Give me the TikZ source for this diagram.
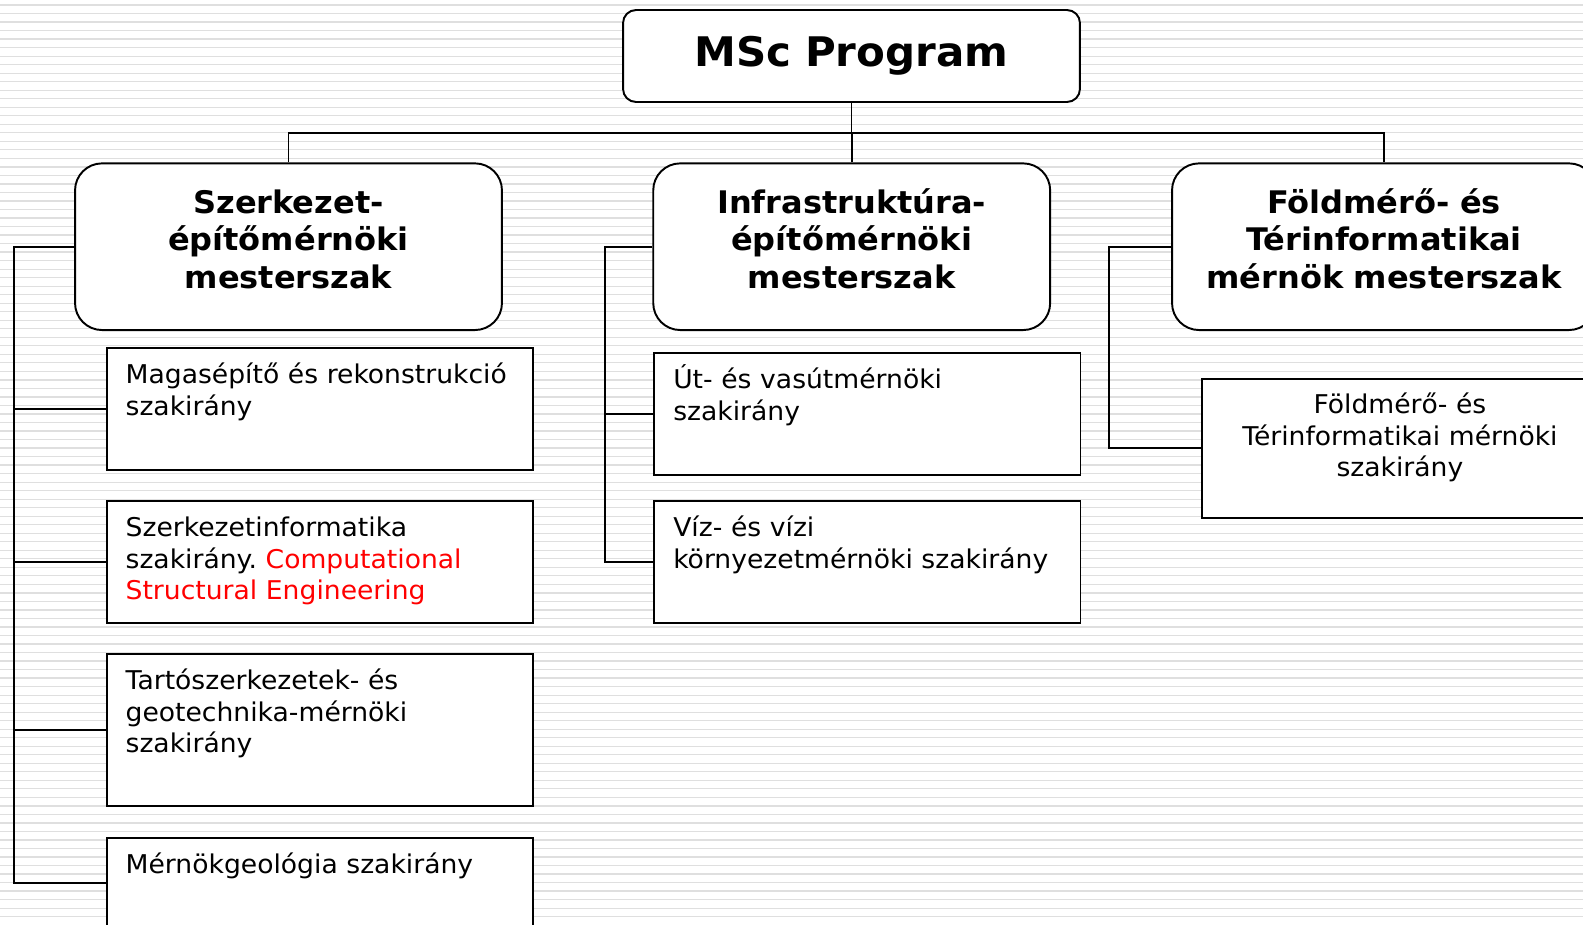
\documentclass[tikz,border=0pt]{standalone}
\usepackage{fontspec}
\setmainfont{DejaVu Sans}[FakeStretch=1.03]
\frenchspacing
\begin{document}
\begin{tikzpicture}[x=0.02cm,y=-0.02cm]
\tikzstyle{every node}+=[inner sep=0pt]
\tikzstyle{stripe}=[gray!25,line width=0.7pt]
\tikzstyle{conn}=[black,line width=1.1pt]
\tikzstyle{titlebox}=[draw,fill=white,line width=1.1pt,rounded corners=0.26cm,text width=9.14cm,align=center,text height=1.134cm,text depth=0.706cm,font=\fontsize{23.2}{28}\selectfont\bfseries]
\tikzstyle{majorbox}=[draw,fill=white,line width=1.1pt,rounded corners=0.54cm,align=center,text height=1.0cm,text depth=2.334cm,font=\fontsize{17.7}{21.26}\selectfont\bfseries]
\tikzstyle{subbox}=[draw,fill=white,line width=1.1pt,anchor=north west,inner xsep=0.38cm,inner ysep=0pt,text width=7.766cm,align=left,text height=0.72cm,font=\fontsize{14.7}{17.86}\selectfont]
\fill [white] (0,0) rectangle (1583,924);
\useasboundingbox (0,0) rectangle (1583,924);
\foreach \i in {0,...,107}
  \draw [stripe] (0,{5+8.52*\i}) -- (1583,{5+8.52*\i});
\node [titlebox] (msc) at (851.5,56) {MSc Program};
\node [majorbox,text width=8.54cm] (szerk) at (288.5,246.7) {Szerkezet-\\építőmérnöki\\mesterszak};
\node [majorbox,text width=7.94cm] (infra) at (851.7,246.7) {Infrastruktúra-\\építőmérnöki\\mesterszak};
\node [majorbox,text width=8.48cm] (foldm) at (1384,246.7) {Földmérő- és\\Térinformatikai\\mérnök mesterszak};
\node [subbox,text depth=1.72cm] (magas) at (105.7,346.7) {Magasépítő és rekonstrukció\\szakirány};
\node [subbox,text depth=1.714cm] (szinf) at (105.7,500) {Szerkezetinformatika\\szakirány. \textcolor{red}{Computational}\\\textcolor{red}{Structural Engineering}};
\node [subbox,text depth=2.326cm] (tarto) at (105.7,652.7) {Tartószerkezetek- és\\geotechnika-mérnöki\\szakirány};
\node [subbox,text depth=1.08cm] (mgeo) at (105.7,836.7) {Mérnökgeológia szakirány};
\node [subbox,text depth=1.72cm] (utvas) at (653.3,352) {Út- és vasútmérnöki\\szakirány};
\node [subbox,text depth=1.72cm] (viz) at (653.3,500) {Víz- és vízi\\környezetmérnöki szakirány};
\node [subbox,text width=7.16cm,align=center,text height=0.694cm,text depth=2.086cm] (terinf) at (1201,378) {Földmérő- és\\Térinformatikai mérnöki\\szakirány};
\coordinate (bus) at (0,133);
\draw [conn] (msc.south) -- (msc.south |- bus);
\draw [conn] (szerk.north) |- (foldm.north |- bus) -- (foldm.north);
\draw [conn] (infra.north) -- (infra.north |- bus);
\draw [conn] (szerk.west) -- ++(-60.5,0) coordinate (lrail) |- (mgeo.west);
\foreach \n in {magas,szinf,tarto}
  \draw [conn] (lrail |- \n.west) -- (\n.west);
\draw [conn] (infra.west) -- ++(-47.5,0) coordinate (mrail) |- (viz.west);
\draw [conn] (mrail |- utvas.west) -- (utvas.west);
\draw [conn] (foldm.west) -- ++(-62,0) |- (terinf.west);
\end{tikzpicture}
\end{document}
